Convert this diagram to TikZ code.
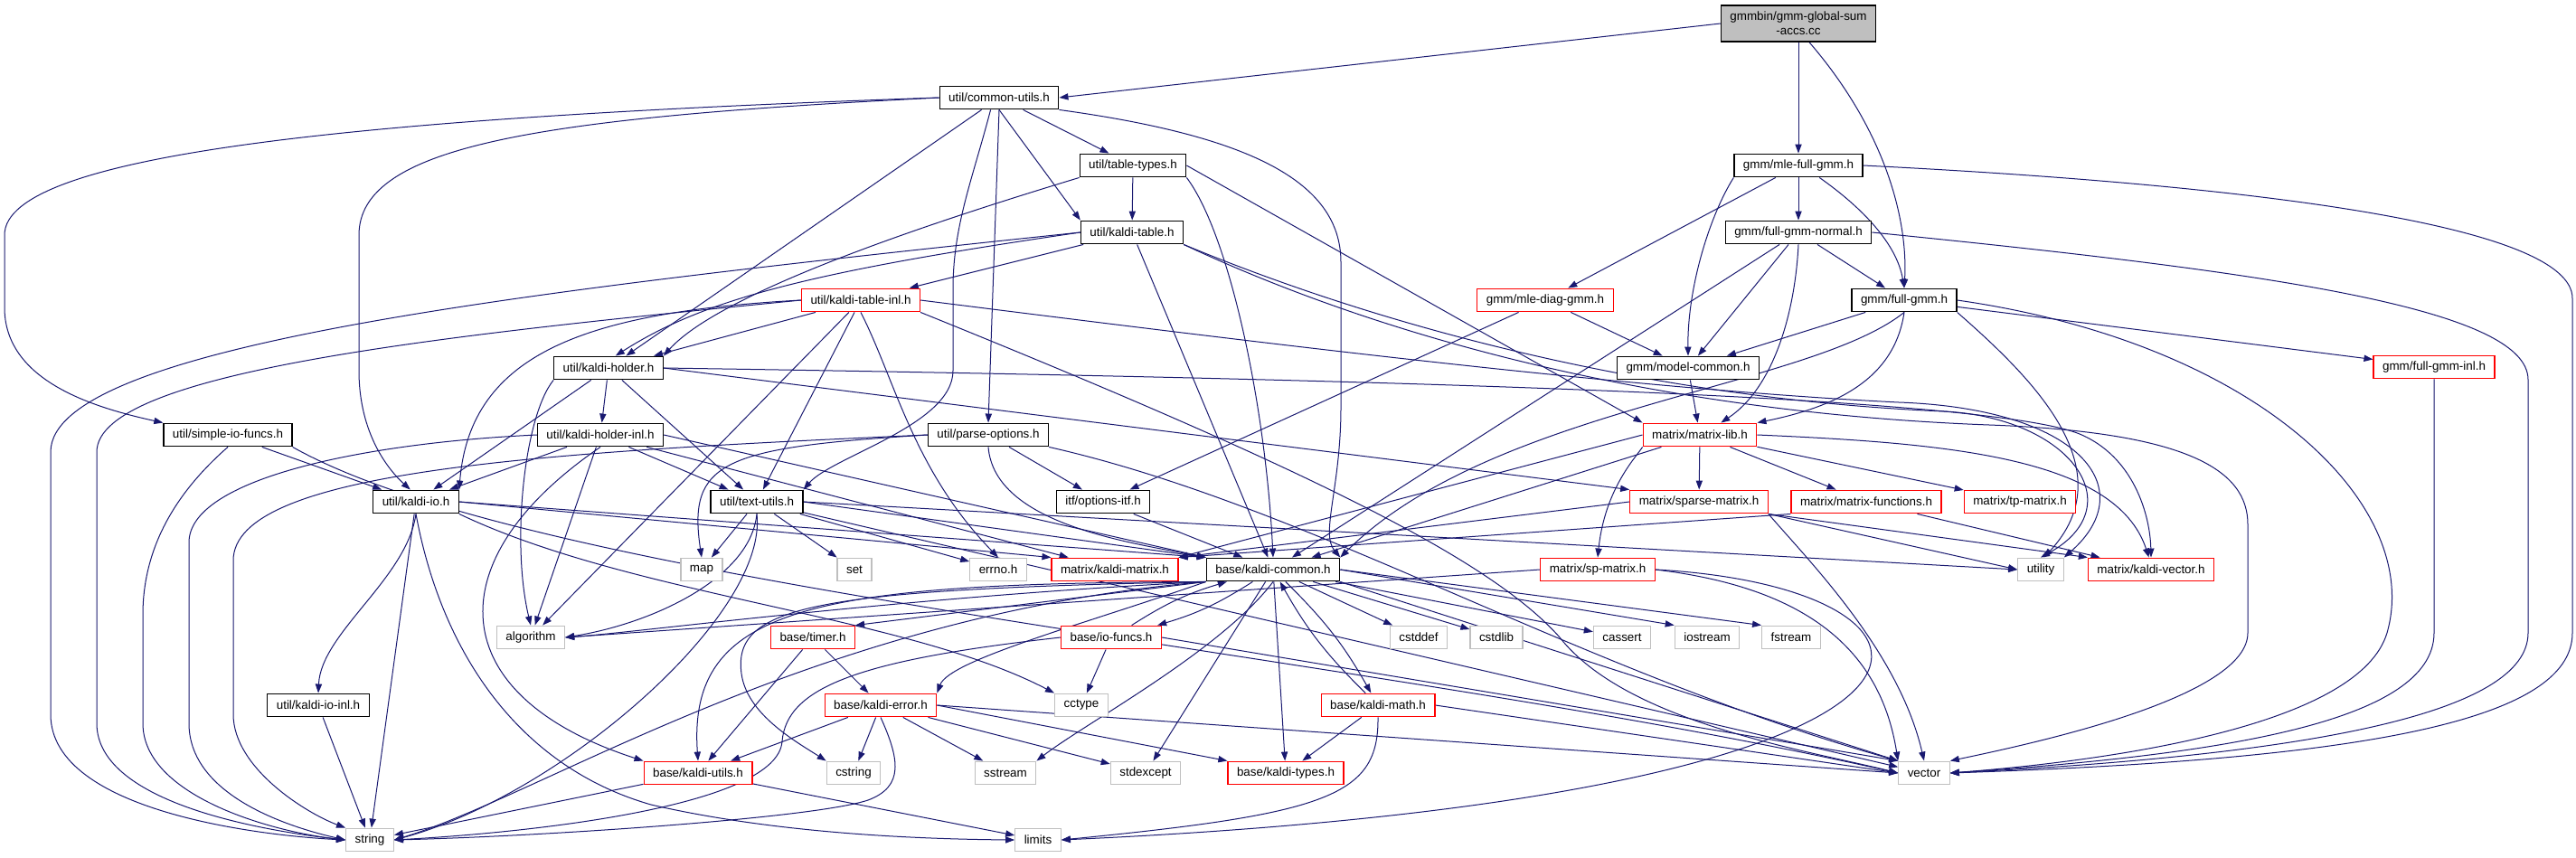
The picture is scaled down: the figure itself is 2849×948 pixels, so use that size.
\documentclass[tikz,border=0pt]{standalone}
\usepackage{fontspec}
\setmainfont{Liberation Sans}
\usetikzlibrary{arrows.meta, positioning, backgrounds}
\definecolor{edgeblue}{HTML}{191970}
\definecolor{boxgray}{HTML}{BFBFBF}
\tikzset{
  box/.style={draw, rectangle, inner xsep=5pt, inner ysep=0pt, minimum height=12.85pt,
    font=\fontsize{6.7}{8}\selectfont, fill=white, line width=0.6pt},
  hdr/.style={box, draw=black},
  trunc/.style={box, draw=red},
  sys/.style={box, draw=boxgray},
  mainfile/.style={box, fill=boxgray, draw=black, minimum height=20pt, align=center},
  dep/.style={draw=edgeblue, line width=0.5pt, -{Triangle[length=5pt,width=3.6pt]}},
}
\begin{document}
\begin{tikzpicture}[x=0.5pt, y=-0.5pt]
	\useasboundingbox (0,0) rectangle (2849,948);
	% files of the include graph
	\node[mainfile] (top) at (1989,26) {gmmbin/gmm-global-sum\\-accs.cc};
	\node[hdr] (cu) at (1105,108) {util/common-utils.h};
	\node[hdr] (tt) at (1253,183) {util/table-types.h};
	\node[hdr] (kt) at (1252,257) {util/kaldi-table.h};
	\node[trunc] (kti) at (952,332) {util/kaldi-table-inl.h};
	\node[hdr] (kh) at (673,407) {util/kaldi-holder.h};
	\node[hdr] (khi) at (664,481) {util/kaldi-holder-inl.h};
	\node[hdr] (sif) at (252,481) {util/simple-io-funcs.h};
	\node[hdr] (po) at (1093,481) {util/parse-options.h};
	\node[hdr] (kio) at (460,555) {util/kaldi-io.h};
	\node[hdr] (tu) at (837,555) {util/text-utils.h};
	\node[hdr] (oi) at (1220,555) {itf/options-itf.h};
	\node[hdr] (kioi) at (352,780) {util/kaldi-io-inl.h};
	\node[hdr] (mfg) at (1989,183) {gmm/mle-full-gmm.h};
	\node[hdr] (fgn) at (1989,257) {gmm/full-gmm-normal.h};
	\node[trunc] (mdg) at (1709,332) {gmm/mle-diag-gmm.h};
	\node[hdr] (fg) at (2106,332) {gmm/full-gmm.h};
	\node[hdr] (mc) at (1867,407) {gmm/model-common.h};
	\node[trunc] (fgi) at (2692,406) {gmm/full-gmm-inl.h};
	\node[trunc] (ml) at (1880,481) {matrix/matrix-lib.h};
	\node[trunc] (sm) at (1879,555) {matrix/sparse-matrix.h};
	\node[trunc] (mf) at (2064,555) {matrix/matrix-functions.h};
	\node[trunc] (tp) at (2234,555) {matrix/tp-matrix.h};
	\node[trunc] (spm) at (1767,630) {matrix/sp-matrix.h};
	\node[trunc] (km) at (1233,630) {matrix/kaldi-matrix.h};
	\node[hdr] (kc) at (1408,630) {base/kaldi-common.h};
	\node[trunc] (kv) at (2379,630) {matrix/kaldi-vector.h};
	\node[trunc] (tim) at (899,705) {base/timer.h};
	\node[trunc] (iof) at (1229,705) {base/io-funcs.h};
	\node[trunc] (ke) at (974,780) {base/kaldi-error.h};
	\node[trunc] (kmath) at (1524,780) {base/kaldi-math.h};
	\node[trunc] (ku) at (772,855) {base/kaldi-utils.h};
	\node[trunc] (kty) at (1422,855) {base/kaldi-types.h};
	% system headers
	\foreach \n/\t/\x/\y in {
		map/map/776/630, set/set/945/630, errno/errno.h/1104/630,
		ut/utility/2257/630, alg/algorithm/587/705,
		cstddef/cstddef/1569/705, cstdlib/cstdlib/1655/705, cassert/cassert/1794/705,
		iostream/iostream/1888/705, fstream/fstream/1981/705, cctype/cctype/1196/780,
		cstring/cstring/944/855, sstream/sstream/1112/855, stdexcept/stdexcept/1267/855,
		vec/vector/2128/855, str/string/409/929, lim/limits/1148/929}{
		\node[sys] (\n) at (\x,\y) {\t};
	}
	\begin{scope}[on background layer]
	\fill[white] (0,0) rectangle (2849,948);
	% straight includes
	\foreach \s/\t in {
		top/mfg, top.west/cu.east,
		cu/kh, cu.south/kt.north west, cu/tt, cu.south/po.north,
		tt/kt, tt.east/ml.north west,
		kt/kti, kt/kc,
		kti/kh, kti/tu, kti/alg,
		kh/khi, kh/kio, kh/tu, kh.east/sm.north west,
		khi/kio, khi/alg, khi/tu, khi/km, khi.east/kc.north west,
		sif/kio,
		kio/str, kio.east/kc.north west, kio.east/km.north west,
		kioi/str,
		tu/map, tu/set, tu/errno, tu.east/kc.north west, tu.east/ut.west, tu/vec,
		po/oi,
		oi/kc,
		ml/sm, ml/mf, ml/tp, ml/kc, ml.west/km.north east,
		sm.west/km.north east, sm.south east/kv.north west, sm.south east/ut.west,
		mf.south west/km.north east, mf/kv,
		spm.west/alg.east,
		mfg/mdg, mfg/fgn,
		fgn/mc, fgn/fg, fgn/kc,
		mdg/mc, mdg/oi,
		fg/mc, fg/fgi,
		mc/ml,
		kc/cstddef, kc/cstdlib, kc/cassert, kc.east/iostream.north west,
		kc.east/fstream.north west, kc/kty, kc/stdexcept,
		kc.south east/vec.north west, kc.south west/tim.north east,
		tim/ke, tim/ku,
		ke/ku, ke/cstring, ke/sstream, ke/stdexcept, ke.east/kty.north west, ke.east/vec.west,
		iof/cctype, iof.east/vec.north west,
		ku/str, ku/lim,
		kmath/kty, kmath.east/vec.west}{
		\draw[dep] (\s) -- (\t);
	}
	% routed includes
	\draw[dep] (top.-60) .. controls (2090,150) and (2110,250) .. (fg.north);
	\draw[dep] (mfg.-30) .. controls (2060,230) and (2098,270) .. (fg.north);
	\draw[dep] (cu.west) .. controls (400,130) and (5,170) .. (5,260) -- (5,340) .. controls (5,420) and (100,450) .. (sif.north west);
	\draw[dep] (cu.west) .. controls (600,130) and (397,160) .. (397,260) -- (397,410) .. controls (397,480) and (430,520) .. (kio.115);
	\draw[dep] (cu.235) .. controls (1075,200) and (1054,250) .. (1054,320) -- (1054,410) .. controls (1054,470) and (920,505) .. (tu.north east);
	\draw[dep] (cu.south east) .. controls (1380,150) and (1483,200) .. (1483,290) -- (1483,450) .. controls (1483,540) and (1460,590) .. (kc.north east);
	\draw[dep] (tt.south west) .. controls (1050,240) and (800,320) .. (kh.north east);
	\draw[dep] (tt.south east) .. controls (1360,260) and (1400,450) .. (kc.north);
	\draw[dep] (kt.west) .. controls (900,300) and (780,330) .. (kh.60);
	\draw[dep] (kt.west) .. controls (600,320) and (56,380) .. (56,500) -- (56,790) .. controls (56,900) and (300,925) .. (str.west);
	\draw[dep] (kt.south east) .. controls (1500,350) and (1800,440) .. (2150,455) .. controls (2290,462) and (2360,560) .. (ut.north);
	\draw[dep] (kt.south east) .. controls (1500,360) and (1800,455) .. (2200,470) .. controls (2420,478) and (2486,520) .. (2486,580) -- (2486,700) .. controls (2486,770) and (2260,820) .. (vec.north east);
	\draw[dep] (kti.west) .. controls (650,345) and (520,390) .. (kio.north east);
	\draw[dep] (kti.west) .. controls (500,370) and (107,410) .. (107,500) -- (107,800) .. controls (107,890) and (300,920) .. (str.west);
	\draw[dep] (kti.south) .. controls (990,420) and (1010,520) .. (errno.north);
	\draw[dep] (kti.east) .. controls (1400,380) and (1800,430) .. (2100,445) .. controls (2300,452) and (2370,540) .. (ut.north east);
	\draw[dep] (kti.south east) .. controls (1450,520) and (1650,620) .. (1725,705) .. controls (1800,800) and (2000,830) .. (vec.west);
	\draw[dep] (kh.south west) .. controls (580,460) and (565,600) .. (alg.north);
	\draw[dep] (kh.east) .. controls (1600,420) and (2200,440) .. (2300,480) .. controls (2360,505) and (2378,570) .. (kv.north);
	\draw[dep] (khi.west) .. controls (400,490) and (209,530) .. (209,600) -- (209,800) .. controls (209,880) and (320,915) .. (str.west);
	\draw[dep] (khi.south) .. controls (480,620) and (490,770) .. (ku.north west);
	\draw[dep] (sif.south) .. controls (200,540) and (158,600) .. (158,680) -- (158,800) .. controls (158,880) and (300,920) .. (str.west);
	\draw[dep] (sif.south east) .. controls (600,650) and (1500,720) .. (vec.west);
	\draw[dep] (kio.south) .. controls (450,640) and (355,700) .. (kioi.north);
	\draw[dep] (kio.south) .. controls (490,730) and (580,850) .. (720,890) .. controls (850,920) and (1000,928) .. (lim.west);
	\draw[dep] (kio.south east) .. controls (700,660) and (1000,680) .. (cctype.north west);
	\draw[dep] (tu.south) .. controls (830,640) and (720,690) .. (alg.east);
	\draw[dep] (tu.south) .. controls (850,680) and (620,880) .. (str.east);
	\draw[dep] (po.west) .. controls (800,495) and (760,510) .. (map.north);
	\draw[dep] (po.west) .. controls (600,500) and (258,520) .. (258,620) -- (258,790) .. controls (258,850) and (340,900) .. (str.north west);
	\draw[dep] (po.south) .. controls (1100,580) and (1250,600) .. (kc.north west);
	\draw[dep] (po.south east) .. controls (1450,560) and (1740,740) .. (vec.north west);
	\draw[dep] (ml.south west) .. controls (1810,505) and (1775,540) .. (spm.north);
	\draw[dep] (ml.east) .. controls (2150,490) and (2340,505) .. (kv.100);
	\draw[dep] (sm.south east) .. controls (2000,620) and (2100,720) .. (vec.north);
	\draw[dep] (spm.east) .. controls (2000,650) and (2080,720) .. (vec.north west);
	\draw[dep] (spm.east) .. controls (2200,650) and (2250,880) .. (lim.east);
	\draw[dep] (mfg.south west) .. controls (1890,240) and (1866,320) .. (mc.north);
	\draw[dep] (mfg.east) .. controls (2500,205) and (2845,250) .. (2845,330) -- (2845,700) .. controls (2845,800) and (2600,840) .. (vec.east);
	\draw[dep] (fgn.south) .. controls (1985,350) and (1960,430) .. (ml.30);
	\draw[dep] (fgn.east) .. controls (2500,300) and (2796,340) .. (2796,420) -- (2796,700) .. controls (2796,790) and (2550,835) .. (vec.east);
	\draw[dep] (fg.south) .. controls (2000,430) and (1650,450) .. (kc.north east);
	\draw[dep] (fg.south) .. controls (2095,420) and (2030,450) .. (ml.north east);
	\draw[dep] (fg.south east) .. controls (2250,420) and (2350,520) .. (ut.75);
	\draw[dep] (fg.east) .. controls (2500,380) and (2680,560) .. (2640,700) .. controls (2610,800) and (2350,840) .. (vec.east);
	\draw[dep] (fgi.south) -- (2692,700) .. controls (2692,800) and (2450,835) .. (vec.east);
	\draw[dep] (kc.south west) .. controls (1200,690) and (1050,730) .. (ke.north east);
	\draw[dep] (kc.south west) .. controls (900,645) and (760,670) .. (ku.north);
	\draw[dep] (kc.south west) .. controls (900,652) and (810,670) .. (820,745) .. controls (826,790) and (880,820) .. (cstring.north west);
	\draw[dep] (kc.south west) .. controls (900,680) and (600,880) .. (str.east);
	\draw[dep] (kc.south west) .. controls (1000,660) and (700,700) .. (alg.east);
	\draw[dep] (kc.south) .. controls (1350,720) and (1200,800) .. (sstream.north east);
	\draw[dep] (kc) to[bend left=8] (kmath);
	\draw[dep] (kmath) to[bend left=8] (kc);
	\draw[dep] (kc) to[bend left=8] (iof);
	\draw[dep] (iof) to[bend left=8] (kc);
	\draw[dep] (ke.south) .. controls (995,840) and (1000,870) .. (960,885) .. controls (900,905) and (600,925) .. (str.east);
	\draw[dep] (iof.west) .. controls (950,730) and (870,760) .. (865,820) .. controls (860,890) and (600,920) .. (str.east);
	\draw[dep] (kmath.south) .. controls (1525,880) and (1470,900) .. (lim.east);
	\end{scope}
\end{tikzpicture}
\end{document}
